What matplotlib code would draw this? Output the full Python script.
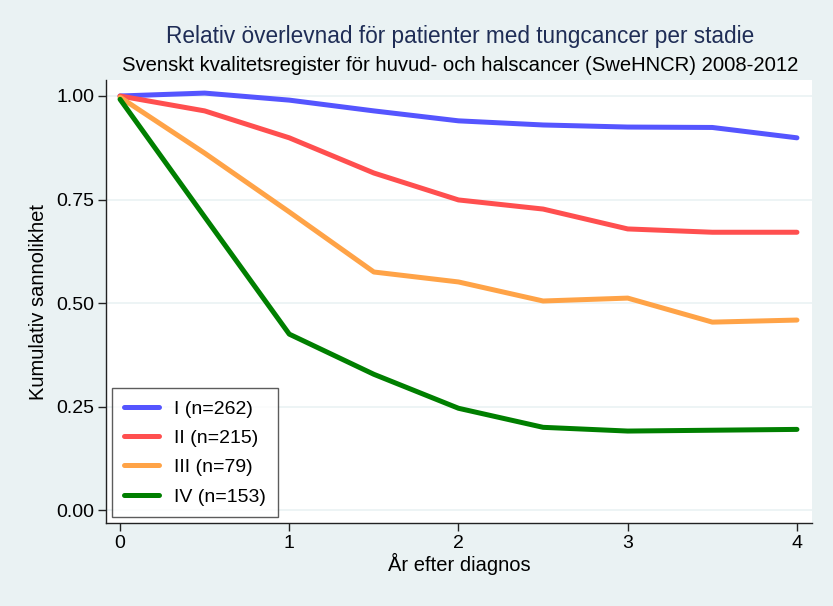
import matplotlib
matplotlib.use("Agg")
import matplotlib.pyplot as plt

years = [0, 0.5, 1, 1.5, 2, 2.5, 3, 3.5, 4]
stage_I = [1.000, 1.007, 0.990, 0.964, 0.940, 0.930, 0.925, 0.924, 0.899]
stage_II = [1.000, 0.964, 0.899, 0.814, 0.749, 0.727, 0.679, 0.671, 0.671]
stage_III = [0.997, 0.862, 0.720, 0.575, 0.551, 0.505, 0.512, 0.454, 0.459]
stage_IV = [0.992, 0.708, 0.425, 0.328, 0.246, 0.200, 0.191, 0.193, 0.195]
labels = ["I (n=262)", "II (n=215)", "III (n=79)", "IV (n=153)"]
colors = ["#5555FF", "#FF4F4F", "#FFA347", "#007F00"]
yticks = [0.00, 0.25, 0.50, 0.75, 1.00]
xticks = [0, 1, 2, 3, 4]

plt.rcParams['font.family'] = ['Liberation Sans', 'DejaVu Sans']
bg = "#EAF2F3"
fig = plt.figure(figsize=(8.33, 6.06), dpi=100, facecolor=bg)
ax = fig.add_axes([106/833, 1-523/606, 706/833, 443/606])
ax.set_facecolor("white")

for vals, lab, c in zip([stage_I, stage_II, stage_III, stage_IV], labels, colors):
    ax.plot(years, vals, color=c, lw=3.6, label=lab, solid_capstyle='round', zorder=3)

ax.set_xlim(-0.083, 4.089)
ax.set_ylim(-0.031, 1.0386)
ax.set_yticks(yticks)
ax.set_yticklabels([f"{v:.2f}" for v in yticks])
ax.set_xticks(xticks)
ax.grid(axis='y', color=bg, lw=1.2, zorder=0)
for s in ['top', 'right']:
    ax.spines[s].set_visible(False)
for s in ['left', 'bottom']:
    ax.spines[s].set_color('#222222')
    ax.spines[s].set_linewidth(1.0)
ax.tick_params(axis='both', labelsize=14, length=5.5, color='#222222', width=1.0, pad=3)
ax.set_ylabel("Kumulativ sannolikhet", fontsize=14.5, labelpad=6)
ax.set_xlabel("År efter diagnos", fontsize=14.5, labelpad=1)

leg = ax.legend(loc='lower left', fontsize=14, frameon=True, fancybox=False,
                edgecolor='#333333', handlelength=1.85, borderpad=0.6,
                labelspacing=0.6, handletextpad=0.75, borderaxespad=0.3)
leg.get_frame().set_linewidth(1.0)

fig.text(0.552, 1-36.5/606, "Relativ överlevnad för patienter med tungcancer per stadie",
         ha='center', va='center', fontsize=16.3, color="#1F2D56")
fig.text(0.552, 1-65.5/606, "Svenskt kvalitetsregister för huvud- och halscancer (SweHNCR) 2008-2012",
         ha='center', va='center', fontsize=14.6, color="black")

fig.savefig("out.png", dpi=100, facecolor=bg)
